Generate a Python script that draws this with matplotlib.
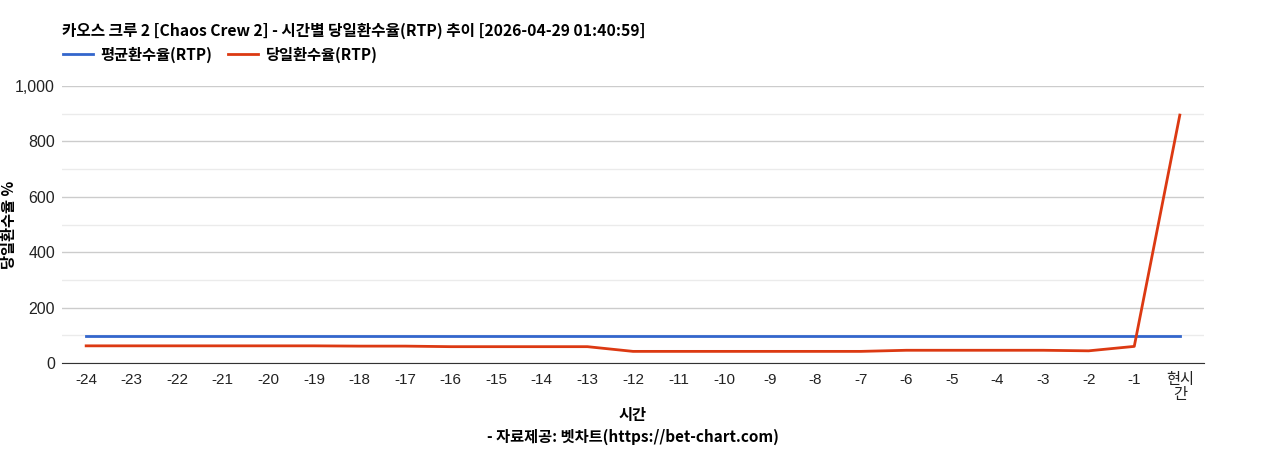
import numpy as np
import matplotlib.pyplot as plt
from matplotlib.ticker import MultipleLocator, FuncFormatter

plt.rcParams['font.family'] = ['Noto Sans CJK KR', 'DejaVu Sans']

hours = ['-24', '-23', '-22', '-21', '-20', '-19', '-18', '-17', '-16', '-15',
         '-14', '-13', '-12', '-11', '-10', '-9', '-8', '-7', '-6', '-5',
         '-4', '-3', '-2', '-1', '현시\n간']
avg_rtp = [96.5] * 25
day_rtp = [62, 62, 62, 62, 62, 62, 61, 61, 59, 59,
           59, 59, 42, 42, 42, 42, 42, 42, 46, 46,
           46, 46, 44, 60, 895]

title = '카오스 크루 2 [Chaos Crew 2] - 시간별 당일환수율(RTP) 추이 [2026-04-29 01:40:59]'

fig = plt.figure(figsize=(12.68, 4.5), dpi=100)
ax = fig.add_axes([0.0489, 0.1933, 0.9006, 0.6156])

x = np.arange(len(hours))
ax.plot(x, avg_rtp, color='#3366cc', lw=2, label='평균환수율(RTP)')
ax.plot(x, day_rtp, color='#dc3912', lw=2, label='당일환수율(RTP)')

ax.set_xlim(-0.53, len(hours) - 0.47)
ax.set_ylim(0, 1000)
ax.yaxis.set_major_locator(MultipleLocator(200))
ax.yaxis.set_minor_locator(MultipleLocator(100))
ax.yaxis.set_major_formatter(FuncFormatter(lambda v, p: f'{int(v):,}'))
ax.grid(axis='y', which='major', color='#cccccc', lw=1)
ax.grid(axis='y', which='minor', color='#ebebeb', lw=1)
ax.set_axisbelow(True)

ax.set_xticks(x)
ax.set_xticklabels(hours, fontsize=11, family=['Liberation Sans', 'Noto Sans CJK KR'],
                   linespacing=1.1, va='top')
for lab in ax.get_yticklabels():
    lab.set_fontfamily(['Liberation Sans', 'DejaVu Sans'])
    lab.set_fontsize(11.5)
ax.tick_params(axis='both', which='both', length=0, colors='#222222')
ax.tick_params(axis='x', pad=7)
ax.tick_params(axis='y', pad=5)

for s in ['top', 'right', 'left']:
    ax.spines[s].set_visible(False)
ax.spines['bottom'].set_color('#333333')

ax.set_ylabel('당일환수율 %', fontsize=11, fontweight='bold')
ax.yaxis.set_label_coords(-0.0394, 0.5)

fig.text(0.0489, 0.932, title, fontsize=11.3, fontweight='bold', ha='left', va='center')
fig.legend(loc='center left', bbox_to_anchor=(0.0385, 0.878), ncol=2, frameon=False,
           prop={'weight': 'bold', 'size': 11}, handlelength=2.0,
           columnspacing=1.0, handletextpad=0.5)
fig.text(0.499, 0.078, '시간', fontsize=11, fontweight='bold', ha='center', va='center')
fig.text(0.499, 0.029, '- 자료제공: 벳차트(https://bet-chart.com)', fontsize=11,
         fontweight='bold', ha='center', va='center')

fig.savefig('out.png', dpi=100)
